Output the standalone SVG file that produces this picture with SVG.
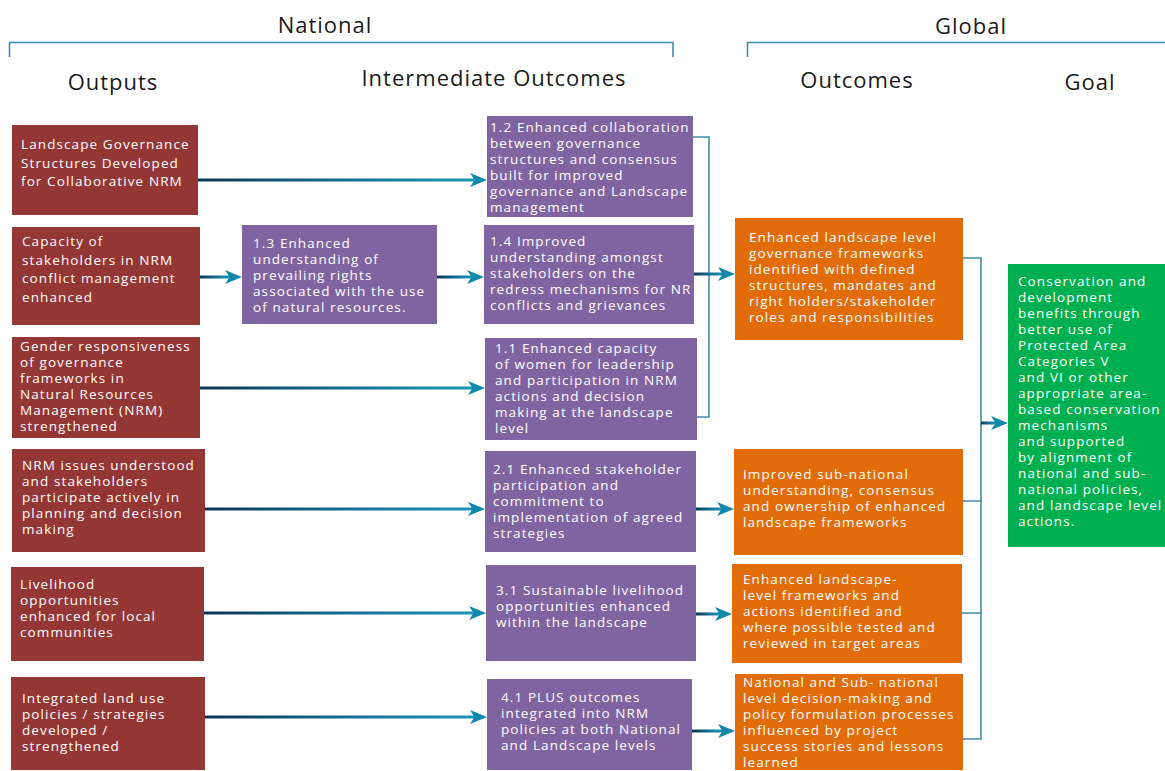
<svg xmlns="http://www.w3.org/2000/svg" xmlns:xlink="http://www.w3.org/1999/xlink" width="1165" height="771" viewBox="0 0 1165 771">
<style>
.hdr{font-family:"Open Sans","Noto Sans",sans-serif;font-size:22px;letter-spacing:1px;fill:#1a1a1a;text-anchor:middle}
.t{font-family:"Open Sans","Noto Sans",sans-serif;font-size:13.5px;letter-spacing:1.1px;fill:#ffffff}
.red{fill:#943634}
.pur{fill:#8064a2}
.ora{fill:#e36c0a}
.grn{fill:#00b050}
.brk{fill:none;stroke:#3b8db0;stroke-width:1.6}
.shaft{fill:url(#gshaft)}
.head{fill:#0f88aa}
</style>
<defs>
<linearGradient id="gshaft" x1="0" y1="0" x2="1" y2="0">
<stop offset="0" stop-color="#0d3556"/>
<stop offset="0.5" stop-color="#136b8f"/>
<stop offset="1" stop-color="#1a97b7"/>
</linearGradient>
<path id="ah" d="M0,0 L-17,-7 L-12.5,0 L-17,7 Z"/>
</defs>
<rect width="1165" height="771" fill="#ffffff"/>

<g id="headers">
<text class="hdr" x="325" y="33">National</text>
<text class="hdr" x="971" y="34">Global</text>
<text class="hdr" x="113" y="90">Outputs</text>
<text class="hdr" x="494" y="86">Intermediate Outcomes</text>
<text class="hdr" x="857" y="88">Outcomes</text>
<text class="hdr" x="1090" y="90">Goal</text>
<path class="brk" d="M9.5,57 V42.5 H673 V57"/>
<path class="brk" d="M747.5,57 V42.5 H1165"/>
</g>

<g id="out1">
<rect class="red" x="12" y="125" width="186" height="90"/>
<text class="t"><tspan x="21" y="149">Landscape Governance</tspan><tspan x="21" y="167.5">Structures Developed</tspan><tspan x="21" y="186">for Collaborative NRM</tspan></text>
</g>
<g id="out2">
<rect class="red" x="12" y="227" width="188" height="98"/>
<text class="t"><tspan x="22" y="246">Capacity of</tspan><tspan x="22" y="264.5">stakeholders in NRM</tspan><tspan x="22" y="283">conflict management</tspan><tspan x="22" y="301.5">enhanced</tspan></text>
</g>
<g id="out3">
<rect class="red" x="12" y="337" width="188" height="101"/>
<text class="t"><tspan x="20" y="351">Gender responsiveness</tspan><tspan x="20" y="367">of governance</tspan><tspan x="20" y="383">frameworks in</tspan><tspan x="20" y="399">Natural Resources</tspan><tspan x="20" y="415">Management (NRM)</tspan><tspan x="20" y="431">strengthened</tspan></text>
</g>
<g id="out4">
<rect class="red" x="12" y="449" width="193" height="103"/>
<text class="t"><tspan x="22" y="470">NRM issues understood</tspan><tspan x="22" y="486">and stakeholders</tspan><tspan x="22" y="502">participate actively in</tspan><tspan x="22" y="518">planning and decision</tspan><tspan x="22" y="534">making</tspan></text>
</g>
<g id="out5">
<rect class="red" x="11" y="567" width="193" height="94"/>
<text class="t"><tspan x="20" y="589">Livelihood</tspan><tspan x="20" y="605">opportunities</tspan><tspan x="20" y="621">enhanced for local</tspan><tspan x="20" y="637">communities</tspan></text>
</g>
<g id="out6">
<rect class="red" x="11" y="677" width="194" height="93"/>
<text class="t"><tspan x="22" y="702.5">Integrated land use</tspan><tspan x="22" y="718.5">policies / strategies</tspan><tspan x="22" y="734.5">developed /</tspan><tspan x="22" y="750.5">strengthened</tspan></text>
</g>

<g id="io13">
<rect class="pur" x="242" y="225" width="195" height="99"/>
<text class="t"><tspan x="253" y="247.5">1.3 Enhanced</tspan><tspan x="253" y="263.5">understanding of</tspan><tspan x="253" y="279.5">prevailing rights</tspan><tspan x="253" y="295.5">associated with the use</tspan><tspan x="253" y="311.5">of natural resources.</tspan></text>
</g>
<g id="io12">
<rect class="pur" x="487" y="116" width="206" height="101"/>
<text class="t"><tspan x="490" y="131.5">1.2 Enhanced collaboration</tspan><tspan x="490" y="147.5">between governance</tspan><tspan x="490" y="163.5">structures and consensus</tspan><tspan x="490" y="179.5">built for improved</tspan><tspan x="490" y="195.5">governance and Landscape</tspan><tspan x="490" y="211.5">management</tspan></text>
</g>
<g id="io14">
<rect class="pur" x="484" y="225" width="210" height="99"/>
<text class="t"><tspan x="490" y="245.5">1.4 Improved</tspan><tspan x="490" y="261.5">understanding amongst</tspan><tspan x="490" y="277.5">stakeholders on the</tspan><tspan x="490" y="293.5">redress mechanisms for NR</tspan><tspan x="490" y="309.5">conflicts and grievances</tspan></text>
</g>
<g id="io11">
<rect class="pur" x="485" y="338" width="212" height="102"/>
<text class="t"><tspan x="495" y="353">1.1 Enhanced capacity</tspan><tspan x="495" y="369">of women for leadership</tspan><tspan x="495" y="385">and participation in NRM</tspan><tspan x="495" y="401">actions and decision</tspan><tspan x="495" y="417">making at the landscape</tspan><tspan x="495" y="433">level</tspan></text>
</g>
<g id="io21">
<rect class="pur" x="485" y="451" width="211" height="101"/>
<text class="t"><tspan x="493" y="474">2.1 Enhanced stakeholder</tspan><tspan x="493" y="490">participation and</tspan><tspan x="493" y="506">commitment to</tspan><tspan x="493" y="522">implementation of agreed</tspan><tspan x="493" y="538">strategies</tspan></text>
</g>
<g id="io31">
<rect class="pur" x="486" y="565" width="210" height="96"/>
<text class="t"><tspan x="496" y="595">3.1 Sustainable livelihood</tspan><tspan x="496" y="611">opportunities enhanced</tspan><tspan x="496" y="627">within the landscape</tspan></text>
</g>
<g id="io41">
<rect class="pur" x="487" y="679" width="205" height="91"/>
<text class="t"><tspan x="501" y="701.5">4.1 PLUS outcomes</tspan><tspan x="501" y="717.5">integrated into NRM</tspan><tspan x="501" y="733.5">policies at both National</tspan><tspan x="501" y="749.5">and Landscape levels</tspan></text>
</g>

<g id="oc1">
<rect class="ora" x="735" y="218" width="228" height="122"/>
<text class="t"><tspan x="749" y="241.5">Enhanced landscape level</tspan><tspan x="749" y="257.5">governance frameworks</tspan><tspan x="749" y="273.5">identified with defined</tspan><tspan x="749" y="289.5">structures, mandates and</tspan><tspan x="749" y="305.5">right holders/stakeholder</tspan><tspan x="749" y="321.5">roles and responsibilities</tspan></text>
</g>
<g id="oc2">
<rect class="ora" x="734" y="449" width="229" height="106"/>
<text class="t"><tspan x="743" y="479">Improved sub-national</tspan><tspan x="743" y="495">understanding, consensus</tspan><tspan x="743" y="511">and ownership of enhanced</tspan><tspan x="743" y="527">landscape frameworks</tspan></text>
</g>
<g id="oc3">
<rect class="ora" x="732" y="564" width="230" height="99"/>
<text class="t"><tspan x="743" y="584">Enhanced landscape-</tspan><tspan x="743" y="600">level frameworks and</tspan><tspan x="743" y="616">actions identified and</tspan><tspan x="743" y="632">where possible tested and</tspan><tspan x="743" y="648">reviewed in target areas</tspan></text>
</g>
<g id="oc4">
<rect class="ora" x="735" y="674" width="228" height="96"/>
<text class="t"><tspan x="743" y="687">National and Sub- national</tspan><tspan x="743" y="703">level decision-making and</tspan><tspan x="743" y="719">policy formulation processes</tspan><tspan x="743" y="735">influenced by project</tspan><tspan x="743" y="751">success stories and lessons</tspan><tspan x="743" y="767">learned</tspan></text>
</g>

<g id="goal">
<rect class="grn" x="1008" y="264" width="157" height="283"/>
<text class="t"><tspan x="1018" y="286">Conservation and</tspan><tspan x="1018" y="302">development</tspan><tspan x="1018" y="318">benefits through</tspan><tspan x="1018" y="334">better use of</tspan><tspan x="1018" y="350">Protected Area</tspan><tspan x="1018" y="366">Categories V</tspan><tspan x="1018" y="382">and VI or other</tspan><tspan x="1018" y="398">appropriate area-</tspan><tspan x="1018" y="414">based conservation</tspan><tspan x="1018" y="430">mechanisms</tspan><tspan x="1018" y="446">and supported</tspan><tspan x="1018" y="462">by alignment of</tspan><tspan x="1018" y="478">national and sub-</tspan><tspan x="1018" y="494">national policies,</tspan><tspan x="1018" y="510">and landscape level</tspan><tspan x="1018" y="526">actions.</tspan></text>
</g>

<g id="connectors">
<path class="brk" d="M693,137 H709 V417 H697"/>
<path class="brk" d="M963,258 H981 V739 H963 M963,501 H981 M962,613 H981"/>
<rect class="shaft" x="198" y="178.5" width="276" height="3"/><use xlink:href="#ah" class="head" transform="translate(487,180)"/>
<rect class="shaft" x="200" y="275.5" width="30" height="3"/><use xlink:href="#ah" class="head" transform="translate(242,277)"/>
<rect class="shaft" x="437" y="275.5" width="35" height="3"/><use xlink:href="#ah" class="head" transform="translate(484,277)"/>
<rect class="shaft" x="200" y="386.5" width="273" height="3"/><use xlink:href="#ah" class="head" transform="translate(485,388)"/>
<rect class="shaft" x="694" y="272.5" width="29" height="3"/><use xlink:href="#ah" class="head" transform="translate(735,274)"/>
<rect class="shaft" x="205" y="507.5" width="268" height="3"/><use xlink:href="#ah" class="head" transform="translate(485,509)"/>
<rect class="shaft" x="204" y="611.5" width="270" height="3"/><use xlink:href="#ah" class="head" transform="translate(486,613)"/>
<rect class="shaft" x="205" y="715.5" width="270" height="3"/><use xlink:href="#ah" class="head" transform="translate(487,717)"/>
<rect class="shaft" x="696" y="507.5" width="26" height="3"/><use xlink:href="#ah" class="head" transform="translate(734,509)"/>
<rect class="shaft" x="696" y="612.5" width="24" height="3"/><use xlink:href="#ah" class="head" transform="translate(732,614)"/>
<rect class="shaft" x="692" y="729.5" width="31" height="3"/><use xlink:href="#ah" class="head" transform="translate(735,731)"/>
<rect class="shaft" x="981" y="421.5" width="15" height="3"/><use xlink:href="#ah" class="head" transform="translate(1008,423)"/>
</g>
</svg>
